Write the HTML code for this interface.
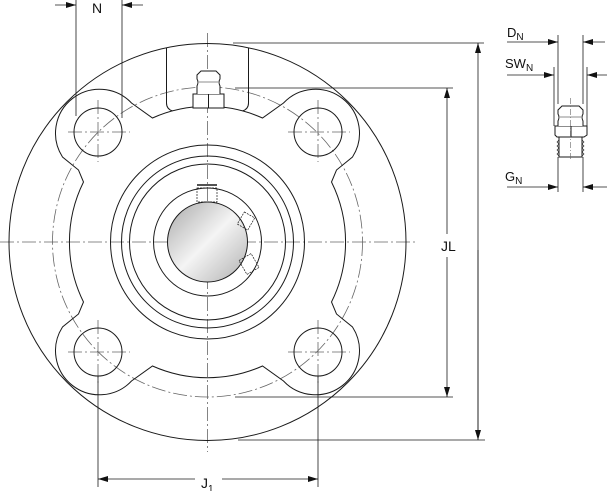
<!DOCTYPE html>
<html><head><meta charset="utf-8"><style>
html,body{margin:0;padding:0;background:#fff;}
svg{display:block;}
text{font-family:"Liberation Sans",sans-serif;fill:#111;}
</style></head><body>
<svg width="610" height="491" viewBox="0 0 610 491" xmlns="http://www.w3.org/2000/svg">
<defs>
<linearGradient id="g" x1="0" y1="0" x2="1" y2="1">
<stop offset="0" stop-color="#a9a9a9"/><stop offset="0.5" stop-color="#f4f4f4"/><stop offset="1" stop-color="#b0b0b0"/>
</linearGradient>
<marker id="a" viewBox="0 0 10 6" refX="10" refY="3" markerWidth="10" markerHeight="6" orient="auto" markerUnits="userSpaceOnUse"><path d="M0,0 L10,3 L0,6 Z" fill="#111"/></marker>
</defs>
<g fill="none" stroke="#1a1a1a" stroke-width="1">
<!-- centerlines -->
<g stroke="#666" stroke-width="0.8" stroke-dasharray="14,3,2,3">
<line x1="207.5" y1="33" x2="207.5" y2="452"/>
<line x1="0" y1="242" x2="417" y2="242"/>
<circle cx="207.5" cy="242" r="155"/>
<line x1="68" y1="132" x2="130" y2="132"/><line x1="98" y1="100" x2="98" y2="162"/>
<line x1="288" y1="132" x2="350" y2="132"/><line x1="318" y1="100" x2="318" y2="162"/>
<line x1="68" y1="352" x2="130" y2="352"/><line x1="98" y1="320" x2="98" y2="384"/>
<line x1="288" y1="352" x2="350" y2="352"/><line x1="318" y1="320" x2="318" y2="384"/>
</g>
<circle cx="207.5" cy="242" r="198.5"/>
<g transform="translate(207.5,242)">
<path d="M55,-124 A135,135 0 0,0 -55,-124 L-76,-139 A44,44 0 0,0 -145,-85 L-129,-72 L-124,-60 A135,135 0 0,0 -124,60 L-129,72 L-145,85 A44,44 0 0,0 -76,139 L-55,124 A135,135 0 0,0 55,124 L76,139 A44,44 0 0,0 145,85 L129,72 L124,60 A135,135 0 0,0 124,-60 L129,-72 L145,-85 A44,44 0 0,0 76,-139 Z"/>
<path d="M-41,-194 L-41,-139 Q-41,-133 -35,-131"/>
<path d="M41,-194 L41,-139 Q41,-133 35,-131"/>
<circle r="97"/><circle r="86"/><circle r="78"/><circle r="54"/>
<circle r="40" fill="url(#g)"/>
</g>
<circle cx="98" cy="132" r="24"/><circle cx="318" cy="132" r="24"/>
<circle cx="98" cy="352" r="24"/><circle cx="318" cy="352" r="24"/>
<!-- grease nipple top -->
<path d="M193,94 L224,94 L224,108 L193,108 Z M208.5,94 L208.5,108" fill="#fff"/>
<path d="M197,94 L197,86 Q199,82 197,79 L197,75 L201,71 L216,71 L220,75 L220,79 Q218,82 220,86 L220,94" fill="#fff"/>
<line x1="199" y1="82" x2="218" y2="82" stroke-width="0.6"/>
<!-- set screws -->
<g stroke-width="0.7" stroke-dasharray="2,1">
<rect x="197" y="188" width="20" height="14"/>
<rect x="240" y="214" width="12" height="14" transform="rotate(30 246 221)"/>
<rect x="242" y="256" width="14" height="16" transform="rotate(-30 249 264)"/>
</g>
<line x1="197" y1="185" x2="217" y2="185" stroke-width="1.5"/>
<!-- N dimension -->
<line x1="76" y1="0" x2="76" y2="116" stroke-width="0.8"/>
<line x1="122" y1="0" x2="122" y2="118" stroke-width="0.8"/>
<line x1="55" y1="5" x2="76" y2="5" stroke-width="0.8" marker-end="url(#a)"/>
<line x1="143" y1="5" x2="122" y2="5" stroke-width="0.8" marker-end="url(#a)"/>
<!-- JL -->
<g stroke-width="0.8">
<line x1="233" y1="43" x2="484" y2="43"/>
<line x1="235" y1="88" x2="453" y2="88"/>
<line x1="235" y1="397" x2="453" y2="397"/>
<line x1="238" y1="440" x2="485" y2="440"/>
<line x1="478" y1="438" x2="478" y2="43" marker-end="url(#a)"/>
<line x1="478" y1="250" x2="478" y2="440" marker-end="url(#a)"/>
<line x1="447" y1="234" x2="447" y2="88" marker-end="url(#a)"/>
<line x1="447" y1="257" x2="447" y2="397" marker-end="url(#a)"/>
<!-- J1 -->
<line x1="98" y1="376" x2="98" y2="487"/>
<line x1="318" y1="376" x2="318" y2="487"/>
<line x1="195" y1="479" x2="98" y2="479" marker-end="url(#a)"/>
<line x1="222" y1="479" x2="318" y2="479" marker-end="url(#a)"/>
<!-- right nipple dims -->
<line x1="558" y1="35" x2="558" y2="104"/>
<line x1="583" y1="35" x2="583" y2="104"/>
<line x1="554" y1="67" x2="554" y2="126"/>
<line x1="587" y1="67" x2="587" y2="126"/>
<line x1="558" y1="157" x2="558" y2="192"/>
<line x1="583" y1="157" x2="583" y2="192"/>
<line x1="507" y1="42" x2="558" y2="42" marker-end="url(#a)"/>
<line x1="605" y1="42" x2="583" y2="42" marker-end="url(#a)"/>
<line x1="507" y1="75" x2="554" y2="75" marker-end="url(#a)"/>
<line x1="607" y1="75" x2="587" y2="75" marker-end="url(#a)"/>
<line x1="507" y1="187" x2="558" y2="187" marker-end="url(#a)"/>
<line x1="607" y1="187" x2="583" y2="187" marker-end="url(#a)"/>
</g>
<!-- right nipple -->
<path d="M555,126 L587,126 L587,135 L584,137 L557,137 L555,135 Z M571,126 L571,137" fill="#fff"/>
<path d="M558,126 L558,121 Q560,117 558,114 L558,110 L562,106 L579,106 L583,110 L583,114 Q581,117 583,121 L583,126" fill="#fff"/>
<line x1="560" y1="117" x2="581" y2="117" stroke-width="0.6"/>
<path d="M559,137 L559,157 L582,157 L582,137"/>
<path d="M559,140 L557,142 L559,144 L557,146 L559,148 L557,150 L559,152 L557,154 L559,156 M582,140 L584,142 L582,144 L584,146 L582,148 L584,150 L582,152 L584,154 L582,156" stroke-width="0.6"/>
<line x1="570.5" y1="98" x2="570.5" y2="160" stroke="#666" stroke-width="0.6" stroke-dasharray="6,2,1,2"/>
</g>
<text x="92" y="13" font-size="14">N</text>
<text x="441" y="251" font-size="14">JL</text>
<text x="201" y="488" font-size="14">J<tspan font-size="10" dy="4">1</tspan></text>
<text x="507" y="37" font-size="13">D<tspan font-size="10" dy="3">N</tspan></text>
<text x="505" y="68" font-size="13">SW<tspan font-size="10" dy="3">N</tspan></text>
<text x="505" y="181" font-size="13">G<tspan font-size="10" dy="3">N</tspan></text>
</svg>
</body></html>
